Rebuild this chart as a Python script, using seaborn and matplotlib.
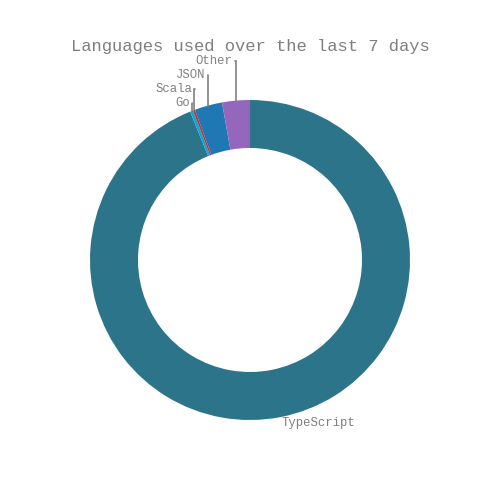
import matplotlib.pyplot as plt
import numpy as np
import seaborn as sns

languages = ["TypeScript", "Go", "Scala", "JSON", "Other"]
percent = [93.9, 0.3, 0.2, 2.8, 2.8]
colors = ["#2b7489", "#00add8", "#d62728", "#1f77b4", "#9467bd"]

# label anchor positions (data units, radius = 1), right end for top labels
label_pos = {
    "Go": (-0.375, 0.981),
    "Scala": (-0.36, 1.069),
    "JSON": (-0.28, 1.156),
    "Other": (-0.11, 1.244),
}

sns.set_theme(style="white")
plt.rcParams["font.family"] = ["Liberation Mono", "DejaVu Sans Mono"]
text_color = "#7f7f7f"

fig = plt.figure(figsize=(5, 5), dpi=100)
ax = fig.add_axes([0, 0, 1, 1])
wedges, _ = ax.pie(
    percent,
    colors=colors,
    startangle=90,
    counterclock=False,
    radius=1,
    wedgeprops=dict(width=0.3, linewidth=0),
)
ax.set_xlim(-250 / 160, 250 / 160)
ax.set_ylim(-240 / 160, 260 / 160)
ax.set_aspect("equal")
ax.axis("off")

for w, name in zip(wedges, languages):
    mid = np.deg2rad((w.theta1 + w.theta2) / 2)
    ex, ey = np.cos(mid), np.sin(mid)
    if name in label_pos:
        lx, ly = label_pos[name]
        ax.plot([ex, ex, lx + 0.015], [ey, ly, ly], color="#808080", lw=1.2, solid_joinstyle="miter")
        ax.text(lx, ly, name, ha="right", va="center", fontsize=8.8, color=text_color)
    else:
        ax.text(ex + 0.005, ey - 0.04, name, ha="left", va="center", fontsize=8.8, color=text_color)

fig.text(0.5, 1 - 46 / 500, "Languages used over the last 7 days", ha="center", va="center",
         fontsize=12.3, color=text_color)

fig.savefig("out.png", dpi=100)
